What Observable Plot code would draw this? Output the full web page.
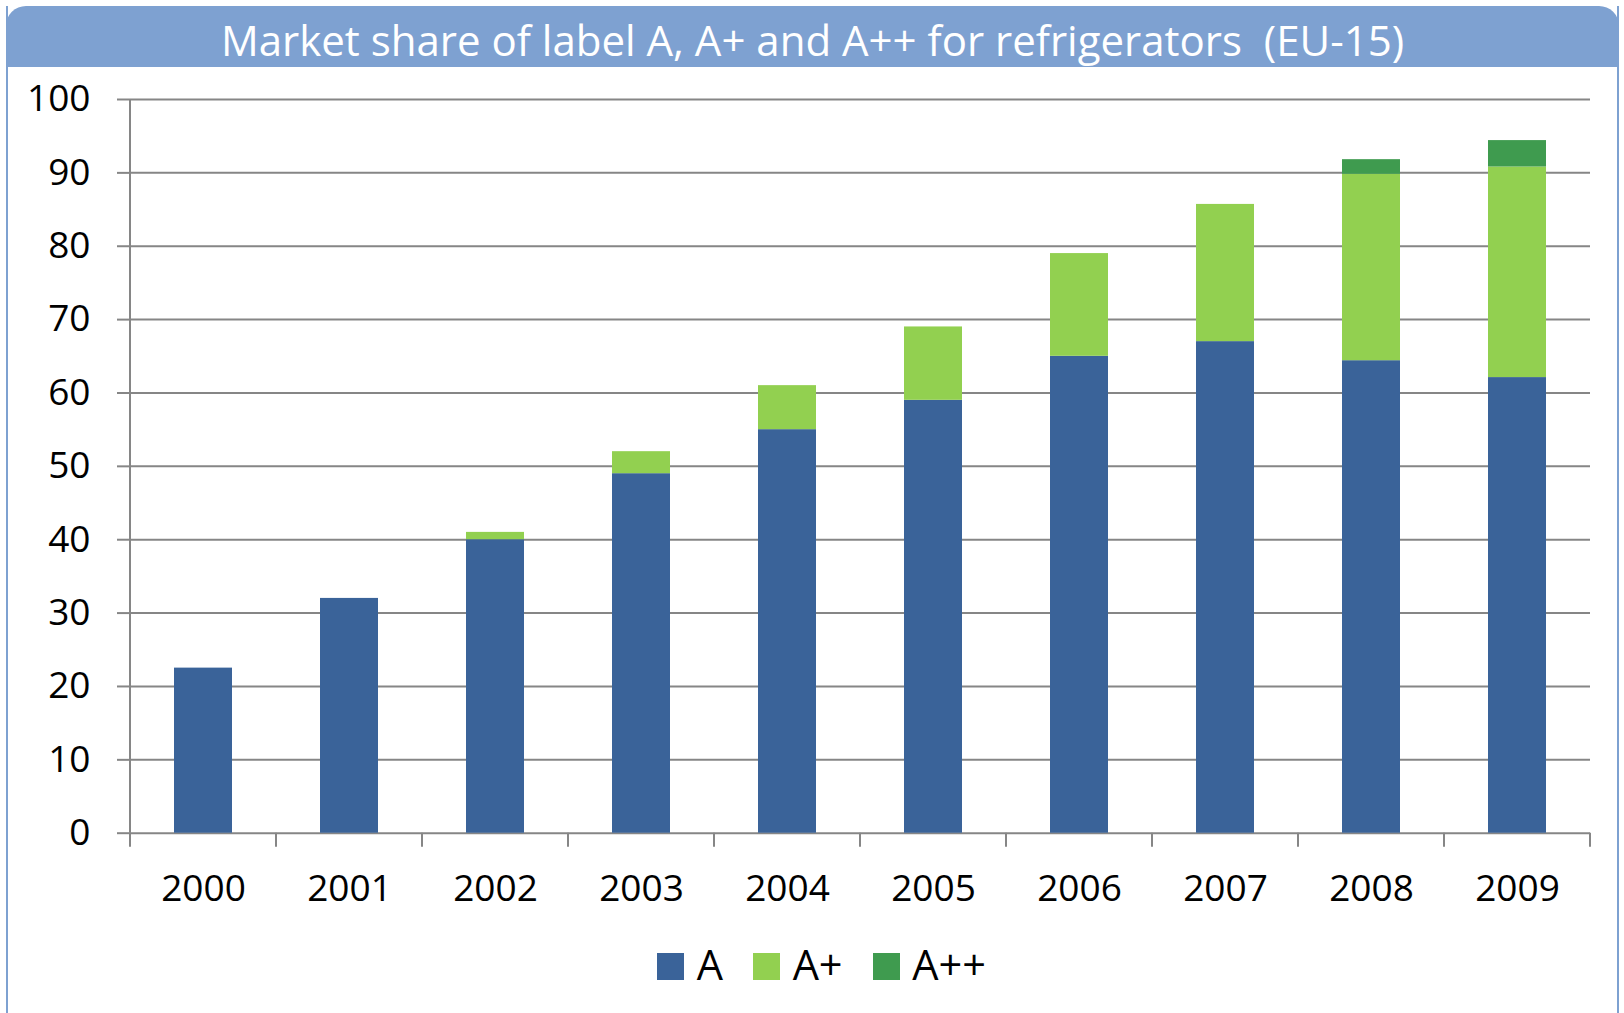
<!DOCTYPE html>
<html>
<head>
<meta charset="utf-8">
<script src="https://cdn.jsdelivr.net/npm/d3@7"></script>
<script src="https://cdn.jsdelivr.net/npm/@observablehq/plot@0.6"></script>
<style>
  html, body { margin: 0; padding: 0; background: #fff; }
  #page { position: relative; width: 1624px; height: 1013px; overflow: hidden; font-family: "Open Sans", sans-serif; }
  #frame { position: absolute; left: 6px; top: 6px; width: 1609px; height: 1020px; border-left: 2.5px solid #7EA1D1; border-right: 2.5px solid #7EA1D1; }
  #banner { position: absolute; left: 6px; top: 6px; width: 1613px; height: 61px; background: #7EA1D1; border-radius: 20px 20px 0 0; }
  #title { position: absolute; left: 6px; top: 18.7px; width: 1613px; text-align: center; color: #fff; font-size: 42px; line-height: 1; white-space: pre; }
  #chart { position: absolute; left: 0; top: 67px; }
  #legend { position: absolute; left: 657px; top: 943.8px; font-size: 41.5px; line-height: 1; white-space: nowrap; color: #000; }
  .sw { display: inline-block; width: 27px; height: 27px; margin-right: 12.7px; vertical-align: baseline; }
  .item { display: inline-block; margin-right: 30px; }
</style>
</head>
<body>
<div id="page">
  <div id="frame"></div>
  <div id="banner"></div>
  <div id="title"></div>
  <div id="chart"></div>
  <div id="legend"></div>
</div>
<script>
const titleText = "Market share of label A, A+ and A++ for refrigerators  (EU-15)";
const years = ["2000","2001","2002","2003","2004","2005","2006","2007","2008","2009"];
const seriesNames = ["A", "A+", "A++"];
const seriesColors = ["#3A6399", "#92D050", "#3F9B4F"];
const valuesA   = [22.5, 32, 40, 49, 55, 59, 65, 67, 64.4, 62.1];
const valuesAp  = [0, 0, 1, 3, 6, 10, 14, 18.7, 25.4, 28.7];
const valuesApp = [0, 0, 0, 0, 0, 0, 0, 0, 2.0, 3.6];
const yTicks = [0, 10, 20, 30, 40, 50, 60, 70, 80, 90, 100];

document.getElementById("title").textContent = titleText;

const seriesValues = [valuesA, valuesAp, valuesApp];
const rows = [];
years.forEach((yr, i) => {
  seriesNames.forEach((s, j) => rows.push({year: yr, series: s, value: seriesValues[j][i]}));
});

const gridColor = "#868686";

function axisLines(index, scales, values, dims) {
  const x = scales.x, y = scales.y;
  const step = x.step(), bw = x.bandwidth();
  const g = d3.create("svg:g").attr("stroke", gridColor).attr("stroke-width", 2).attr("fill", "none");
  const y0 = y(0), yTop = y(100);
  g.append("line").attr("x1", dims.marginLeft).attr("x2", dims.marginLeft).attr("y1", yTop).attr("y2", y0);
  const bounds = years.map(yr => x(yr) + bw / 2 - step / 2);
  bounds.push(x(years[years.length - 1]) + bw / 2 + step / 2);
  for (const bx of bounds) {
    g.append("line").attr("x1", bx).attr("x2", bx).attr("y1", y0).attr("y2", y0 + 14);
  }
  return g.node();
}

const plot = Plot.plot({
  width: 1624,
  height: 870,
  marginTop: 32,
  marginBottom: 104.3,
  marginLeft: 130,
  marginRight: 34,
  style: {fontFamily: "Open Sans", background: "transparent", color: "#000"},
  x: {domain: years, paddingInner: 0.6, paddingOuter: 0.3, label: null},
  y: {domain: [0, 100], label: null},
  color: {domain: seriesNames, range: seriesColors},
  marks: [
    Plot.gridY(yTicks, {stroke: gridColor, strokeOpacity: 1, strokeWidth: 2}),
    Plot.barY(rows, Plot.stackY({order: seriesNames}, {x: "year", y: "value", fill: "series"})),
    Plot.axisY(yTicks, {tickSize: 13, tickPadding: 27, stroke: gridColor, strokeWidth: 2, fontSize: 37, fill: "#000", label: null}),
    Plot.axisX({tickSize: 0, tickPadding: 42, fontSize: 37, fill: "#000", label: null}),
    axisLines
  ]
});
document.getElementById("chart").appendChild(plot);

const legend = document.getElementById("legend");
seriesNames.forEach((s, i) => {
  const item = document.createElement("span");
  item.className = "item";
  const sw = document.createElement("span");
  sw.className = "sw";
  sw.style.background = seriesColors[i];
  item.appendChild(sw);
  item.appendChild(document.createTextNode(s));
  legend.appendChild(item);
});
</script>
</body>
</html>
